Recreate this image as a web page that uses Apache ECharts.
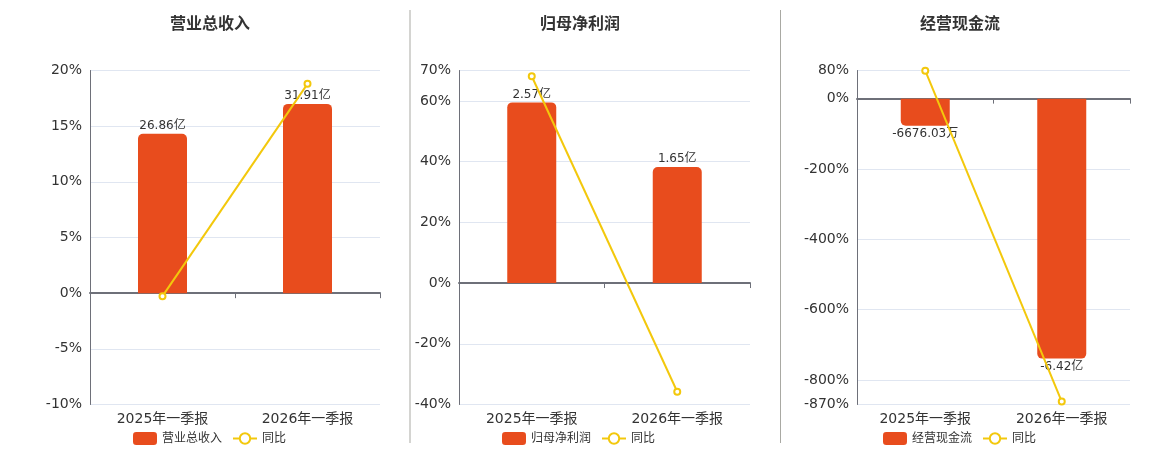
<!DOCTYPE html>
<html>
<head>
<meta charset="utf-8">
<script src="https://cdn.jsdelivr.net/npm/echarts@6/dist/echarts.min.js"></script>
<style>
  html, body { margin: 0; padding: 0; background: #fff; }
  #main { width: 1160px; height: 450px; }
</style>
</head>
<body>
<div id="main"></div>
<script>
// 三个小图的数据
const categories = ['2025年一季报', '2026年一季报'];

const titles = ['营业总收入', '归母净利润', '经营现金流'];

// 柱子数值(亿)
const revenueValues = [26.86, 31.91];
const profitValues = [2.57, 1.65];
const cashValues = [-0.667603, -6.42];

// 柱子上的文字
const revenueLabels = ['26.86亿', '31.91亿'];
const profitLabels = ['2.57亿', '1.65亿'];
const cashLabels = ['-6676.03万', '-6.42亿'];

// 同比(%)
const revenueYoy = [-0.27, 18.80];
const profitYoy = [68.1, -35.8];
const cashYoy = [79.6, -861.7];

// 左轴刻度
const revenueTicks = [-10, -5, 0, 5, 10, 15, 20];
const profitTicks = [-40, -20, 0, 20, 40, 60, 70];
const cashTicks = [-870, -800, -600, -400, -200, 0, 80];

const BAR_COLOR = '#e84c1d';
const LINE_COLOR = '#f3c80c';
const FONT = 'DejaVu Sans, Noto Sans CJK SC, sans-serif';

const panels = [
    { values: revenueValues, labels: revenueLabels, yoy: revenueYoy, ticks: revenueTicks,
      left: 90, right: 780, center: 210, legendLeft: 133 },
    { values: profitValues, labels: profitLabels, yoy: profitYoy, ticks: profitTicks,
      left: 459, right: 410, center: 580, legendLeft: 502 },
    { values: cashValues, labels: cashLabels, yoy: cashYoy, ticks: cashTicks,
      left: 857, right: 30, center: 960, legendLeft: 883 },
];

const option = {
    animation: false,
    textStyle: { fontFamily: FONT },
    title: [], grid: [], xAxis: [], yAxis: [], legend: [], series: [],
    graphic: [410, 780.5].map(x => ({
        type: 'line',
        shape: { x1: x, y1: 10, x2: x, y2: 443 },
        style: { stroke: '#a9a9a3', lineWidth: 1 },
    })),
};

panels.forEach((p, i) => {
    const pctMin = p.ticks[0];
    const pctMax = p.ticks[p.ticks.length - 1];
    // 柱子用隐藏轴,零点和百分比轴对齐
    let barMin, barMax;
    const hi = Math.max(...p.values);
    const lo = Math.min(...p.values);
    if (hi > 0) {
        barMax = hi / 0.85;
        barMin = barMax * pctMin / pctMax;
    } else {
        barMin = lo / 0.85;
        barMax = barMin * pctMax / pctMin;
    }
    const negative = hi <= 0;

    option.title.push({
        text: titles[i],
        left: p.center - 5,
        textAlign: 'center',
        top: 12,
        textStyle: { fontSize: 16, fontWeight: 'bold', color: '#333', fontFamily: FONT },
    });
    option.grid.push({ left: p.left, right: p.right, top: 70.5, bottom: 45.5 });
    option.xAxis.push({
        type: 'category',
        gridIndex: i,
        data: categories,
        axisLine: { onZero: true, lineStyle: { color: '#6e7079', width: 2 } },
        axisTick: { show: true, length: 5, lineStyle: { color: '#6e7079' } },
        axisLabel: { fontSize: 14, color: '#333', margin: 8, interval: 0, onZero: false },
    });
    option.yAxis.push({
        type: 'value',
        gridIndex: i,
        min: pctMin,
        max: pctMax,
        axisLine: { show: true, lineStyle: { color: '#6e7079' } },
        axisTick: { show: false, customValues: p.ticks },
        axisLabel: { fontSize: 14, color: '#333', formatter: '{value}%', customValues: p.ticks },
        splitLine: { lineStyle: { color: '#e0e6f1' } },
    });
    option.yAxis.push({
        type: 'value',
        gridIndex: i,
        min: barMin,
        max: barMax,
        show: false,
        splitLine: { show: false },
    });
    option.legend.push({
        left: p.legendLeft - 5,
        top: 427,
        itemWidth: 24,
        itemHeight: 13,
        itemGap: 10,
        textStyle: { fontSize: 12, color: '#333' },
        data: [titles[i], '同比'].map(name => ({ name })),
        selectedMode: false,
    });
    option.series.push({
        name: titles[i],
        type: 'bar',
        xAxisIndex: i,
        yAxisIndex: i * 2 + 1,
        data: p.values,
        barWidth: 49,
        itemStyle: { color: BAR_COLOR, borderRadius: negative ? [0, 0, 5, 5] : [5, 5, 0, 0] },
        label: {
            show: true,
            position: negative ? 'bottom' : 'top',
            distance: 2,
            fontSize: 12,
            color: '#333',
            formatter: d => p.labels[d.dataIndex],
        },
    });
    option.series.push({
        name: '同比',
        type: 'line',
        xAxisIndex: i,
        yAxisIndex: i * 2,
        data: p.yoy,
        symbol: 'emptyCircle',
        symbolSize: 6,
        lineStyle: { color: LINE_COLOR, width: 2 },
        itemStyle: { color: LINE_COLOR, borderWidth: 1.5 },
        z: 5,
    });
});

const chart = echarts.init(document.getElementById('main'));
chart.setOption(option);
</script>
</body>
</html>
